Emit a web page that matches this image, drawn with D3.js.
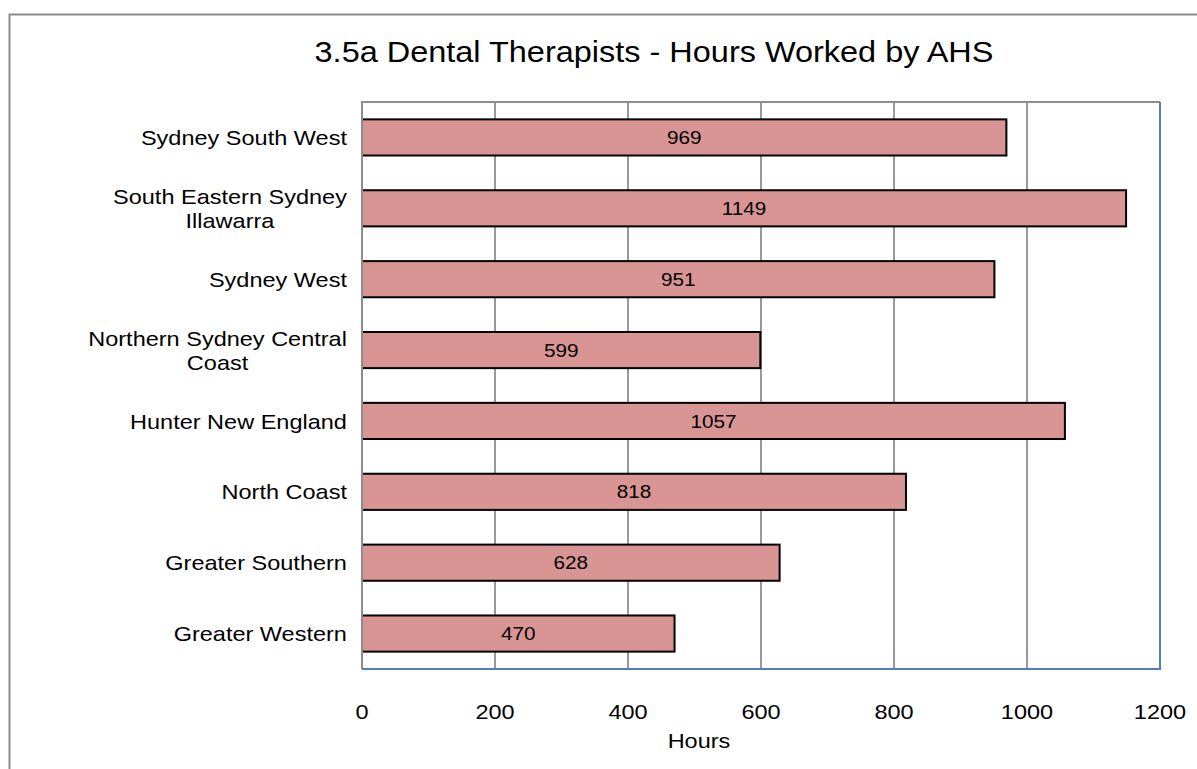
<!DOCTYPE html>
<html lang="en">
<head>
  <meta charset="UTF-8">
  <script src="https://cdn.jsdelivr.net/npm/d3@7"></script>
  <style>
    body { margin: 0; background: #fff; }
  </style>
</head>
<body>
<div id="container"></div>
<script>

// Data
const regions = [
  ["Sydney South West"],
  ["South Eastern Sydney", "Illawarra"],
  ["Sydney West"],
  ["Northern Sydney Central", "Coast"],
  ["Hunter New England"],
  ["North Coast"],
  ["Greater Southern"],
  ["Greater Western"]
];
const hours = [969, 1149, 951, 599, 1057, 818, 628, 470];
const xTicks = [0, 200, 400, 600, 800, 1000, 1200];

const width = 1197;
const height = 769;
const plot = { left: 362, top: 102, right: 1160, bottom: 669 };
const font = "Liberation Sans, Arial, sans-serif";
const sx = 1.12; // the original text is a bit wide

const svg = d3.create("svg")
    .attr("width", width)
    .attr("height", height);
document.getElementById("container").appendChild(svg.node());

// put text at (px, py) with horizontal stretch
function place(sel, px, py) {
  return sel.attr("transform", `translate(${px},${py}) scale(${sx},1)`);
}

// outer chart border (runs off the right/bottom edge)
svg.append("rect")
    .attr("x", 9.5).attr("y", 14.5)
    .attr("width", 1200).attr("height", 800)
    .attr("fill", "#fff")
    .attr("stroke", "#8c8c8c")
    .attr("stroke-width", 2);

const x = d3.scaleLinear().domain([0, 1200]).range([plot.left, plot.right]);
const y = d3.scaleBand()
    .domain(d3.range(hours.length))
    .range([plot.top, plot.bottom])
    .paddingInner(0.49)
    .paddingOuter(0.245);

// title
place(svg.append("text"), 654, 62)
    .attr("text-anchor", "middle")
    .attr("font-family", font)
    .attr("font-size", 29)
    .attr("fill", "#000")
    .text("3.5a Dental Therapists - Hours Worked by AHS");

// gridlines
svg.append("g")
  .selectAll("line")
  .data(xTicks.slice(1, -1))
  .join("line")
    .attr("x1", d => x(d)).attr("x2", d => x(d))
    .attr("y1", plot.top).attr("y2", plot.bottom)
    .attr("stroke", "#999")
    .attr("stroke-width", 2);

// bars
svg.append("g")
  .selectAll("rect")
  .data(hours)
  .join("rect")
    .attr("x", x(0))
    .attr("y", (d, i) => y(i))
    .attr("width", d => x(d) - x(0))
    .attr("height", y.bandwidth())
    .attr("fill", "#d99594")
    .attr("stroke", "#000")
    .attr("stroke-width", 2);

// value labels
svg.append("g")
  .selectAll("text")
  .data(hours)
  .join("text")
    .attr("transform", (d, i) =>
      `translate(${(x(d) + x(0)) / 2},${y(i) + y.bandwidth() / 2}) scale(${sx},1)`)
    .attr("dy", "0.36em")
    .attr("text-anchor", "middle")
    .attr("font-family", font)
    .attr("font-size", 18.5)
    .attr("fill", "#000")
    .text(d => d);

// plot frame: gray top/left, blue right/bottom
svg.append("path")
    .attr("d", `M${plot.left},${plot.bottom}V${plot.top}H${plot.right}`)
    .attr("fill", "none").attr("stroke", "#8c8c8c").attr("stroke-width", 2);
svg.append("path")
    .attr("d", `M${plot.right},${plot.top}V${plot.bottom}H${plot.left}`)
    .attr("fill", "none").attr("stroke", "#4f81bd").attr("stroke-width", 2);

// x tick labels
svg.append("g")
  .selectAll("text")
  .data(xTicks)
  .join("text")
    .attr("transform", d => `translate(${x(d)},711) scale(${sx},1)`)
    .attr("dy", "0.36em")
    .attr("text-anchor", "middle")
    .attr("font-family", font)
    .attr("font-size", 21)
    .attr("fill", "#000")
    .text(d => d);

place(svg.append("text"), 699, 740)
    .attr("dy", "0.36em")
    .attr("text-anchor", "middle")
    .attr("font-family", font)
    .attr("font-size", 21)
    .attr("fill", "#000")
    .text("Hours");

// category labels (multi-line blocks right-aligned, lines centred within)
const cats = svg.append("g")
    .attr("font-family", font)
    .attr("font-size", 21)
    .attr("fill", "#000");

regions.forEach((lines, i) => {
  const cy = y(i) + y.bandwidth() / 2;
  const lh = 24;
  const texts = lines.map((ln, j) => cats.append("text")
      .attr("dy", "0.36em")
      .attr("text-anchor", "middle")
      .text(ln));
  const w = d3.max(texts, t => t.node().getComputedTextLength()) * sx;
  texts.forEach((t, j) => place(t, 347 - w / 2, cy + (j - (lines.length - 1) / 2) * lh));
});

</script>
</body>
</html>
